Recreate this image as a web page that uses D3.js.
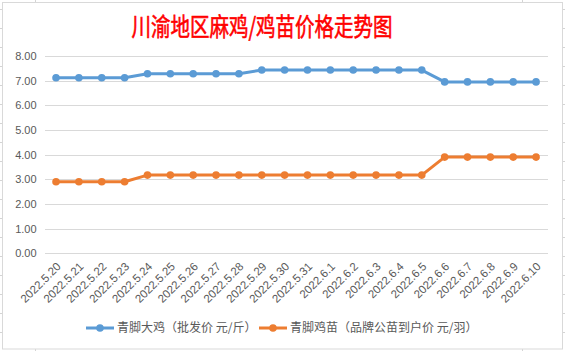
<!DOCTYPE html>
<html>
<head>
<meta charset="utf-8">
<script src="https://cdn.jsdelivr.net/npm/d3@7"></script>
<style>
  html, body { margin: 0; padding: 0; background: #ffffff; }
  svg { display: block; }
</style>
</head>
<body>
<div id="canvas"></div>
<script>
"use strict"

/* Data */
let dates = ["2022.5.20", "2022.5.21", "2022.5.22", "2022.5.23", "2022.5.24",
             "2022.5.25", "2022.5.26", "2022.5.27", "2022.5.28", "2022.5.29",
             "2022.5.30", "2022.5.31", "2022.6.1", "2022.6.2", "2022.6.3",
             "2022.6.4", "2022.6.5", "2022.6.6", "2022.6.7", "2022.6.8",
             "2022.6.9", "2022.6.10"];

/* 青脚大鸡 wholesale price, yuan per jin */
let bigChicken = [7.12, 7.12, 7.12, 7.12, 7.28, 7.28, 7.28, 7.28, 7.28,
                  7.43, 7.43, 7.43, 7.43, 7.43, 7.43, 7.43, 7.43,
                  6.95, 6.95, 6.95, 6.95, 6.95];

/* 青脚鸡苗 price, yuan per bird */
let chickSeedling = [2.90, 2.90, 2.90, 2.90, 3.17, 3.17, 3.17, 3.17, 3.17,
                     3.17, 3.17, 3.17, 3.17, 3.17, 3.17, 3.17, 3.17,
                     3.90, 3.90, 3.90, 3.90, 3.90];

let yTicks = [0, 1, 2, 3, 4, 5, 6, 7, 8];

let seriesNames = ["青脚大鸡（批发价 元/斤）", "青脚鸡苗（品牌公苗到户价 元/羽）"];
let title = "川渝地区麻鸡/鸡苗价格走势图";

/* Drawing configuration */
let svgWidth = 565;
let svgHeight = 351;
let plotLeft = 44.6;
let plotRight = 547.5;
let plotTop = 56;
let plotBottom = 253.3;
let colors = ["#5B9BD5", "#ED7D31"];
let gridColor = "#D9D9D9";
let textColor = "#595959";
let font = "'Liberation Sans', Arial, sans-serif";
let cjkFont = "'Noto Sans CJK SC', sans-serif";

let svg = d3.select("#canvas")
    .append("svg")
    .attr("width", svgWidth)
    .attr("height", svgHeight);

/* Spreadsheet cell lines peeking out around the chart */
let sheet = svg.append("g").attr("stroke", "#D4D4D4").attr("stroke-width", 1);
for (let y = 8.5; y < svgHeight; y += 19) {
  sheet.append("line").attr("x1", 0).attr("x2", svgWidth)
      .attr("y1", Math.round(y) + 0.5).attr("y2", Math.round(y) + 0.5);
}
[35.5, 522.5].forEach(function (x) {
  sheet.append("line").attr("x1", x).attr("x2", x).attr("y1", 0).attr("y2", svgHeight);
});

/* Chart area */
svg.append("rect")
    .attr("x", 2.5)
    .attr("y", 2.5)
    .attr("width", 560)
    .attr("height", 346.5)
    .attr("fill", "#ffffff")
    .attr("stroke", gridColor);

/* Scales */
let xScale = d3.scalePoint()
    .domain(dates)
    .range([plotLeft, plotRight])
    .padding(0.5);

let yScale = d3.scaleLinear()
    .domain([0, 8])
    .range([plotBottom, plotTop]);

/* Y axis with gridlines */
let yAxis = svg.append("g")
    .attr("transform", "translate(" + plotLeft + ",0)")
    .call(d3.axisLeft(yScale)
        .tickValues(yTicks)
        .tickFormat(d3.format(".2f"))
        .tickSize(-(plotRight - plotLeft))
        .tickPadding(8));
yAxis.select(".domain").remove();
yAxis.selectAll(".tick line")
    .attr("stroke", gridColor)
    .attr("shape-rendering", "crispEdges");
yAxis.selectAll(".tick text")
    .attr("fill", textColor)
    .style("font-family", font)
    .style("font-size", "11px");

/* X axis labels, rotated */
let xAxis = svg.append("g")
    .attr("transform", "translate(0," + plotBottom + ")")
    .call(d3.axisBottom(xScale).tickSize(0).tickPadding(0));
xAxis.select(".domain").remove();
xAxis.selectAll(".tick text")
    .attr("fill", textColor)
    .style("font-family", font)
    .style("font-size", "11.5px")
    .attr("text-anchor", "end")
    .attr("dy", null)
    .attr("transform", "translate(5,14) rotate(-45)");

/* Lines and markers */
let series = [bigChicken, chickSeedling];
let line = d3.line()
    .x(function (d, i) { return xScale(dates[i]); })
    .y(function (d) { return yScale(d); });

series.forEach(function (values, k) {
  svg.append("path")
      .datum(values)
      .attr("fill", "none")
      .attr("stroke", colors[k])
      .attr("stroke-width", 3)
      .attr("stroke-linejoin", "round")
      .attr("d", line);

  svg.append("g").selectAll("circle")
      .data(values)
      .join("circle")
      .attr("cx", function (d, i) { return xScale(dates[i]); })
      .attr("cy", function (d) { return yScale(d); })
      .attr("r", 3.8)
      .attr("fill", colors[k]);
});

/* Title */
svg.append("text")
    .attr("x", 0)
    .attr("y", 0)
    .attr("text-anchor", "middle")
    .attr("transform", "translate(262,36) scale(1,1.3)")
    .attr("fill", "#FF0000")
    .attr("stroke", "#FF0000")
    .attr("stroke-width", 0.45)
    .style("font-family", cjkFont)
    .style("font-size", "19.5px")
    .text(title);

/* Legend */
let legendX = [86, 259];
let legendY = 328;
seriesNames.forEach(function (name, k) {
  let g = svg.append("g");
  g.append("line")
      .attr("x1", legendX[k])
      .attr("x2", legendX[k] + 28)
      .attr("y1", legendY)
      .attr("y2", legendY)
      .attr("stroke", colors[k])
      .attr("stroke-width", 3);
  g.append("circle")
      .attr("cx", legendX[k] + 14)
      .attr("cy", legendY)
      .attr("r", 3.8)
      .attr("fill", colors[k]);
  g.append("text")
      .attr("x", legendX[k] + 31)
      .attr("y", legendY)
      .attr("dy", "0.35em")
      .attr("fill", textColor)
      .style("font-family", cjkFont)
      .style("font-size", "12px")
      .text(name);
});
</script>
</body>
</html>
